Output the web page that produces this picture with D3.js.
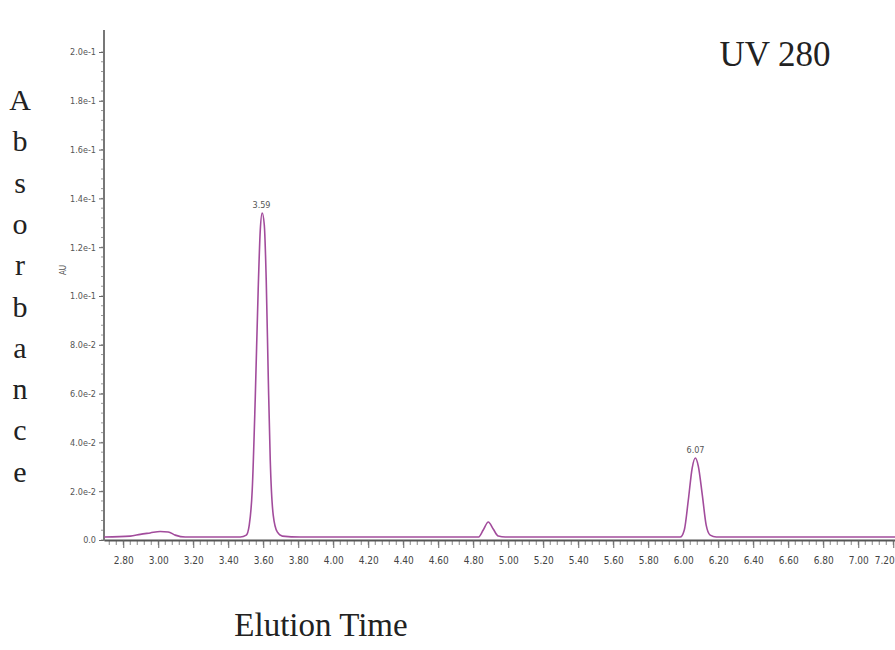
<!DOCTYPE html>
<html>
<head>
<meta charset="utf-8">
<script src="https://cdn.jsdelivr.net/npm/d3@7"></script>
<style>
  body { margin: 0; background: #fff; }
  svg { display: block; }
</style>
</head>
<body>
<div id="chart"></div>
<script>
// trace (minutes, AU)
const times = [2.691, 2.840, 2.897, 2.954, 3.011, 3.057, 3.097, 3.154, 3.469, 3.503, 3.520, 3.537, 3.554, 3.571, 3.583, 3.594, 3.606, 3.617, 3.629, 3.640, 3.657, 3.680, 3.709, 3.811,
               4.829, 4.857, 4.886, 4.914, 4.943, 4.983,
               5.983, 6.006, 6.029, 6.051, 6.069, 6.086, 6.109, 6.131, 6.154, 6.189, 7.211];
const absorb = [0.0012, 0.0016, 0.0023, 0.0029, 0.0035, 0.0033, 0.0020, 0.0012, 0.0012, 0.0020, 0.0061, 0.0205, 0.0574, 0.1025, 0.1270, 0.1340, 0.1291, 0.1066, 0.0656, 0.0328, 0.0102, 0.0033, 0.0016, 0.0012,
                0.0012, 0.0041, 0.0074, 0.0045, 0.0016, 0.0012,
                0.0012, 0.0041, 0.0164, 0.0295, 0.0336, 0.0303, 0.0184, 0.0061, 0.0020, 0.0012, 0.0012];

// labelled peaks
const peakTimes = [3.59, 6.07];
const peakHeights = [0.1340, 0.0336];

// tick values
const xTicks = d3.range(0, 23).map(i => +(2.8 + i * 0.2).toFixed(2));
const yTicks = [0, 0.02, 0.04, 0.06, 0.08, 0.10, 0.12, 0.14, 0.16, 0.18, 0.20];
const yTickLabels = ["0.0", "2.0e-2", "4.0e-2", "6.0e-2", "8.0e-2", "1.0e-1", "1.2e-1", "1.4e-1", "1.6e-1", "1.8e-1", "2.0e-1"];

const width = 895, height = 650;

const svg = d3.select("#chart")
    .append("svg")
    .attr("width", width)
    .attr("height", height);

const x = d3.scaleLinear()
    .domain([2.69, 7.21])
    .range([104, 895]);

const y = d3.scaleLinear()
    .domain([0, 0.2])
    .range([540, 52]);

const smallFont = "'DejaVu Sans Condensed', 'Liberation Sans Narrow', sans-serif";
const serif = "'Liberation Serif', 'DejaVu Serif', serif";

// minor x ticks
const xMinor = d3.range(0, 113).map(i => 2.72 + i * 0.04).filter(t => t <= 7.21);
svg.append("g")
    .selectAll("line")
    .data(xMinor)
    .join("line")
    .attr("x1", d => x(d)).attr("x2", d => x(d))
    .attr("y1", 541).attr("y2", 545)
    .attr("stroke", "#888")
    .attr("stroke-width", 1);

// x axis
const xAxis = svg.append("g")
    .attr("transform", "translate(0, 540)")
    .call(d3.axisBottom(x).tickValues(xTicks).tickFormat(d3.format(".2f")).tickSize(8).tickSizeOuter(0));
xAxis.select(".domain").attr("stroke", "#555").attr("stroke-width", 2);
xAxis.selectAll(".tick line").attr("stroke", "#666");
xAxis.selectAll("text")
    .attr("font-family", smallFont)
    .attr("font-size", "10px")
    .attr("fill", "#444")
    .attr("dy", "1.3em");
// last label sits on the right edge
xAxis.selectAll(".tick:last-of-type text")
    .attr("text-anchor", "end")
    .attr("dx", "1px");

// minor y ticks
const yMinor = d3.range(0, 51).map(i => i * 0.004);
svg.append("g")
    .selectAll("line")
    .data(yMinor)
    .join("line")
    .attr("x1", 101).attr("x2", 104)
    .attr("y1", d => y(d)).attr("y2", d => y(d))
    .attr("stroke", "#999")
    .attr("stroke-width", 1);

// y axis
const yAxis = svg.append("g")
    .attr("transform", "translate(104, 0)")
    .call(d3.axisLeft(y).tickValues(yTicks).tickFormat((d, i) => yTickLabels[i]).tickSize(5).tickSizeOuter(0));
yAxis.select(".domain").remove();
yAxis.selectAll(".tick line").attr("stroke", "#666");
yAxis.selectAll("text")
    .attr("font-family", smallFont)
    .attr("font-size", "9px")
    .attr("fill", "#555");

svg.append("line")
    .attr("x1", 104).attr("x2", 104)
    .attr("y1", 30).attr("y2", 541)
    .attr("stroke", "#777")
    .attr("stroke-width", 2);

// AU unit label
svg.append("text")
    .attr("transform", "translate(66, 270) rotate(-90)")
    .attr("text-anchor", "middle")
    .attr("font-family", smallFont)
    .attr("font-size", "8px")
    .attr("fill", "#555")
    .text("AU");

// trace
const pts = times.map((t, i) => [t, absorb[i]]);
const line = d3.line()
    .x(d => x(d[0]))
    .y(d => y(d[1]))
    .curve(d3.curveMonotoneX);

svg.append("path")
    .datum(pts)
    .attr("fill", "none")
    .attr("stroke", "#a24c9c")
    .attr("stroke-width", 1.6)
    .attr("d", line);

// peak labels
svg.append("g")
    .selectAll("text")
    .data(peakTimes)
    .join("text")
    .attr("x", d => x(d))
    .attr("y", (d, i) => y(peakHeights[i]) - 5)
    .attr("text-anchor", "middle")
    .attr("font-family", smallFont)
    .attr("font-size", "9px")
    .attr("fill", "#555")
    .text(d => d3.format(".2f")(d));

// titles
svg.append("text")
    .attr("x", 775)
    .attr("y", 66)
    .attr("text-anchor", "middle")
    .attr("font-family", serif)
    .attr("font-size", "35px")
    .attr("fill", "#222")
    .text("UV 280");

svg.append("text")
    .attr("x", 321)
    .attr("y", 636)
    .attr("text-anchor", "middle")
    .attr("font-family", serif)
    .attr("font-size", "33px")
    .attr("fill", "#222")
    .text("Elution Time");

const yTitle = "Absorbance".split("");
svg.append("g")
    .selectAll("text")
    .data(yTitle)
    .join("text")
    .attr("x", 20)
    .attr("y", (d, i) => 110 + i * 41.3)
    .attr("text-anchor", "middle")
    .attr("font-family", serif)
    .attr("font-size", "30px")
    .attr("fill", "#222")
    .text(d => d);
</script>
</body>
</html>
